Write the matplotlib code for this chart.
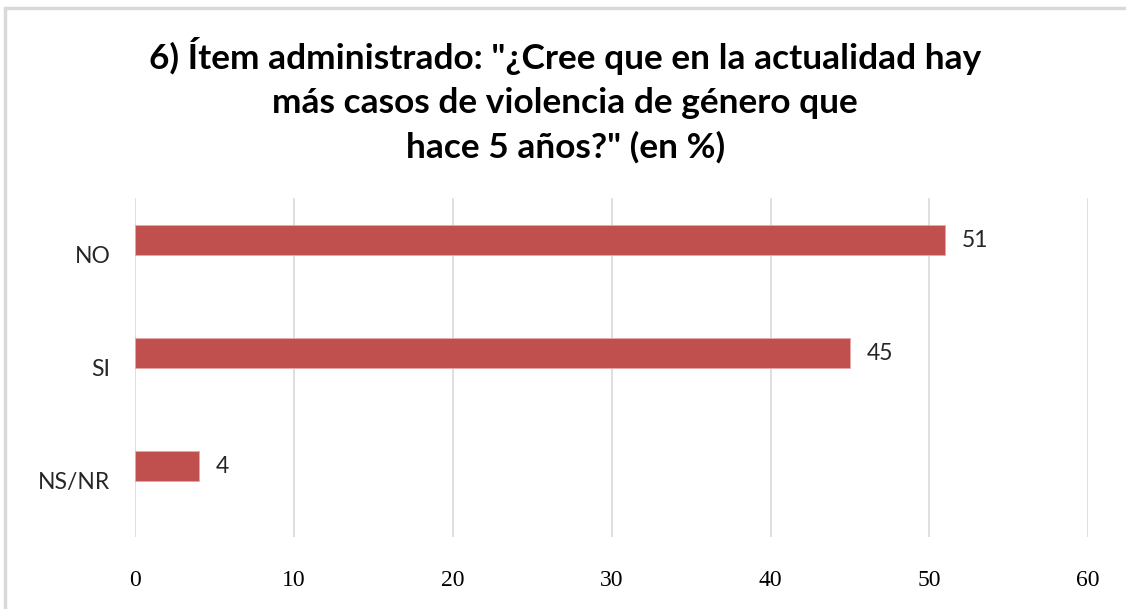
import numpy as np
import matplotlib.pyplot as plt
from matplotlib.patches import Rectangle

categories = ["NO", "SI", "NS/NR"]
values = [51, 45, 4]
xticks = [0, 10, 20, 30, 40, 50, 60]
title = '6) Ítem administrado: "¿Cree que en la actualidad hay\nmás casos de violencia de género que\nhace 5 años?" (en %)'

fig = plt.figure(figsize=(11.26, 6.09), dpi=100)
# light frame around the chart (cut at right/bottom like the original)
fig.patches.append(Rectangle((5 / 1126, -0.05), 1.2, 1 - 8 / 609 + 0.05,
                             transform=fig.transFigure, fill=False,
                             edgecolor="#d9d9d9", linewidth=2.5))

ax = fig.add_axes([0.1203, 0.1182, 0.846, 0.5567])
y = np.arange(len(categories))
# bars sit in the upper half of each category band
bars = ax.barh(y - 0.128, values, height=0.265, color="#c0504d",
               edgecolor="#e6a9a7", linewidth=0.6, zorder=3)
ax.bar_label(bars, labels=[str(v) for v in values], padding=12,
             fontsize=16.5, family="Lato", color="#262626")

ax.set_xlim(0, 60)
ax.set_ylim(2.5, -0.5)
ax.set_xticks(xticks)
ax.set_yticks(y, categories)
ax.tick_params(axis="x", length=0, pad=24, labelsize=17, labelcolor="#000000")
ax.tick_params(axis="y", length=0, pad=18, labelsize=16.5, labelcolor="#262626")
for lab in ax.get_xticklabels():
    lab.set_family("Liberation Serif")
for lab in ax.get_yticklabels():
    lab.set_family("Lato")
ax.grid(axis="x", color="#d9d9d9", linewidth=1.2, zorder=0)
for side in ax.spines.values():
    side.set_visible(False)

fig.text(0.502, 0.94, title, ha="center", va="top", fontsize=25.4,
         fontweight="bold", family="Lato", linespacing=1.47, color="#000000")

fig.savefig("out.png", dpi=100)
